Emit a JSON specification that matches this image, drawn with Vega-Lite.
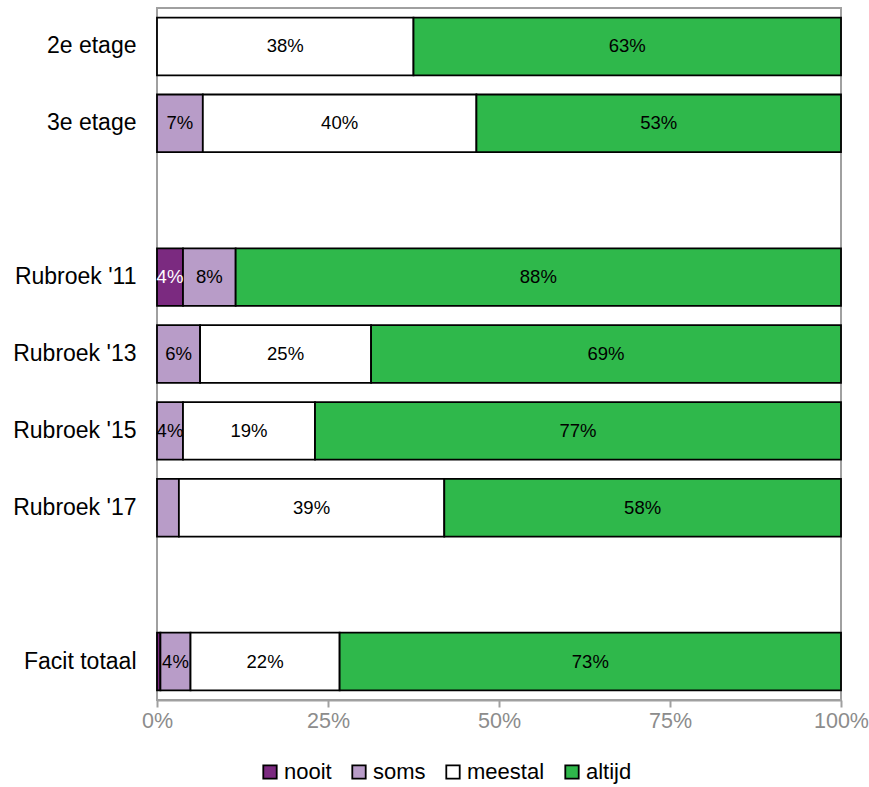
{
  "$schema": "https://vega.github.io/schema/vega-lite/v6.json",
  "width": 684,
  "height": 692,
  "autosize": {"type": "none"},
  "padding": {"left": 157, "top": 8, "right": 28, "bottom": 87},
  "config": {
    "font": "Liberation Sans",
    "view": {"stroke": "#a0a0a0", "strokeWidth": 2}
  },
  "data": {
    "values": [
      {"cat": "2e etage", "series": "meestal", "ord": 3, "value": 0.375, "label": "38%"},
      {"cat": "2e etage", "series": "altijd", "ord": 4, "value": 0.625, "label": "63%"},
      {"cat": "3e etage", "series": "soms", "ord": 2, "value": 0.067, "label": "7%"},
      {"cat": "3e etage", "series": "meestal", "ord": 3, "value": 0.400, "label": "40%"},
      {"cat": "3e etage", "series": "altijd", "ord": 4, "value": 0.533, "label": "53%"},
      {"cat": "Rubroek '11", "series": "nooit", "ord": 1, "value": 0.038, "label": "4%"},
      {"cat": "Rubroek '11", "series": "soms", "ord": 2, "value": 0.077, "label": "8%"},
      {"cat": "Rubroek '11", "series": "altijd", "ord": 4, "value": 0.885, "label": "88%"},
      {"cat": "Rubroek '13", "series": "soms", "ord": 2, "value": 0.063, "label": "6%"},
      {"cat": "Rubroek '13", "series": "meestal", "ord": 3, "value": 0.250, "label": "25%"},
      {"cat": "Rubroek '13", "series": "altijd", "ord": 4, "value": 0.687, "label": "69%"},
      {"cat": "Rubroek '15", "series": "soms", "ord": 2, "value": 0.038, "label": "4%"},
      {"cat": "Rubroek '15", "series": "meestal", "ord": 3, "value": 0.193, "label": "19%"},
      {"cat": "Rubroek '15", "series": "altijd", "ord": 4, "value": 0.769, "label": "77%"},
      {"cat": "Rubroek '17", "series": "soms", "ord": 2, "value": 0.032, "label": ""},
      {"cat": "Rubroek '17", "series": "meestal", "ord": 3, "value": 0.388, "label": "39%"},
      {"cat": "Rubroek '17", "series": "altijd", "ord": 4, "value": 0.580, "label": "58%"},
      {"cat": "Facit totaal", "series": "nooit", "ord": 1, "value": 0.005, "label": ""},
      {"cat": "Facit totaal", "series": "soms", "ord": 2, "value": 0.044, "label": "4%"},
      {"cat": "Facit totaal", "series": "meestal", "ord": 3, "value": 0.218, "label": "22%"},
      {"cat": "Facit totaal", "series": "altijd", "ord": 4, "value": 0.733, "label": "73%"}
    ]
  },
  "transform": [
    {"stack": "value", "groupby": ["cat"], "sort": [{"field": "ord", "order": "ascending"}], "as": ["x0", "x1"]},
    {"calculate": "(datum.x0 + datum.x1) / 2", "as": "xm"}
  ],
  "encoding": {
    "y": {
      "field": "cat",
      "type": "nominal",
      "title": null,
      "scale": {
        "domain": ["2e etage", "3e etage", " ", "Rubroek '11", "Rubroek '13", "Rubroek '15", "Rubroek '17", "  ", "Facit totaal"],
        "paddingInner": 0.25,
        "paddingOuter": 0.125
      },
      "axis": {
        "domain": false,
        "ticks": false,
        "labelPadding": 21,
        "labelFontSize": 23,
        "labelColor": "#000000",
        "labelFont": "Liberation Sans"
      }
    }
  },
  "layer": [
    {
      "mark": {"type": "bar", "stroke": "#000000", "strokeWidth": 1.8},
      "encoding": {
        "x": {
          "field": "x0",
          "type": "quantitative",
          "title": null,
          "scale": {"domain": [0, 1], "nice": false},
          "axis": {
            "format": ".0%",
            "values": [0, 0.25, 0.5, 0.75, 1],
            "grid": false,
            "domainColor": "#a0a0a0",
            "domainWidth": 2,
            "tickColor": "#a0a0a0",
            "tickWidth": 2,
            "tickSize": 7,
            "labelColor": "#8c8c8c",
            "labelFontSize": 21.5,
            "labelPadding": 3,
            "labelFlush": false
          }
        },
        "x2": {"field": "x1"},
        "color": {
          "field": "series",
          "type": "nominal",
          "scale": {
            "domain": ["nooit", "soms", "meestal", "altijd"],
            "range": ["#7b2a80", "#b89cc8", "#ffffff", "#2fb84b"]
          },
          "legend": {
            "title": null,
            "orient": "none",
            "direction": "horizontal",
            "columns": 4,
            "gridAlign": "none",
            "legendX": 102,
            "legendY": 753,
            "symbolType": "square",
            "symbolSize": 180,
            "symbolStrokeColor": "#000000",
            "symbolStrokeWidth": 1.8,
            "labelFontSize": 22,
            "labelColor": "#000000",
            "labelOffset": 3,
            "columnPadding": 16
          }
        }
      }
    },
    {
      "mark": {"type": "text", "fontSize": 18.5, "baseline": "middle", "align": "center"},
      "encoding": {
        "x": {"field": "xm", "type": "quantitative"},
        "text": {"field": "label"},
        "color": {
          "condition": {"test": "datum.series === 'nooit'", "value": "#ffffff"},
          "value": "#000000"
        }
      }
    }
  ]
}
